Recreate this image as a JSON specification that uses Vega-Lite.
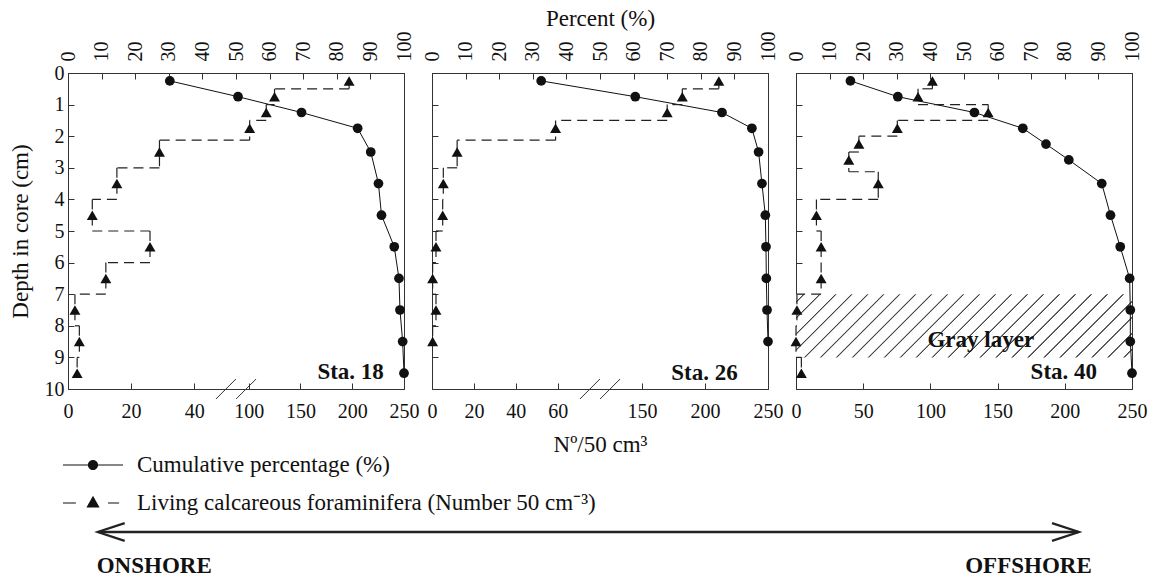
{
  "$schema": "https://vega.github.io/schema/vega-lite/v6.json",
  "background": "white",
  "padding": {"left": 8, "top": 6, "right": 5, "bottom": 0},
  "datasets": {
    "cum": [
      {"sta": "Sta. 18", "depth": 0.25, "pct": 30.3},
      {"sta": "Sta. 18", "depth": 0.75, "pct": 50.6},
      {"sta": "Sta. 18", "depth": 1.25, "pct": 69.5},
      {"sta": "Sta. 18", "depth": 1.75, "pct": 86.2},
      {"sta": "Sta. 18", "depth": 2.5, "pct": 90.1},
      {"sta": "Sta. 18", "depth": 3.5, "pct": 92.4},
      {"sta": "Sta. 18", "depth": 4.5, "pct": 93.3},
      {"sta": "Sta. 18", "depth": 5.5, "pct": 97.1},
      {"sta": "Sta. 18", "depth": 6.5, "pct": 98.5},
      {"sta": "Sta. 18", "depth": 7.5, "pct": 98.8},
      {"sta": "Sta. 18", "depth": 8.5, "pct": 99.6},
      {"sta": "Sta. 18", "depth": 9.5, "pct": 100},
      {"sta": "Sta. 26", "depth": 0.25, "pct": 32.5},
      {"sta": "Sta. 26", "depth": 0.75, "pct": 60.5},
      {"sta": "Sta. 26", "depth": 1.25, "pct": 86.3},
      {"sta": "Sta. 26", "depth": 1.75, "pct": 95.2},
      {"sta": "Sta. 26", "depth": 2.5, "pct": 97.2},
      {"sta": "Sta. 26", "depth": 3.5, "pct": 98.2},
      {"sta": "Sta. 26", "depth": 4.5, "pct": 99.2},
      {"sta": "Sta. 26", "depth": 5.5, "pct": 99.4},
      {"sta": "Sta. 26", "depth": 6.5, "pct": 99.5},
      {"sta": "Sta. 26", "depth": 7.5, "pct": 99.7},
      {"sta": "Sta. 26", "depth": 8.5, "pct": 100},
      {"sta": "Sta. 40", "depth": 0.25, "pct": 16.2},
      {"sta": "Sta. 40", "depth": 0.75, "pct": 30.3},
      {"sta": "Sta. 40", "depth": 1.25, "pct": 53.1},
      {"sta": "Sta. 40", "depth": 1.75, "pct": 67.5},
      {"sta": "Sta. 40", "depth": 2.25, "pct": 74.4},
      {"sta": "Sta. 40", "depth": 2.75, "pct": 81.2},
      {"sta": "Sta. 40", "depth": 3.5, "pct": 91.0},
      {"sta": "Sta. 40", "depth": 4.5, "pct": 93.6},
      {"sta": "Sta. 40", "depth": 5.5, "pct": 96.5},
      {"sta": "Sta. 40", "depth": 6.5, "pct": 99.3},
      {"sta": "Sta. 40", "depth": 7.5, "pct": 99.5},
      {"sta": "Sta. 40", "depth": 8.5, "pct": 99.5},
      {"sta": "Sta. 40", "depth": 9.5, "pct": 100}
    ],
    "foram": [
      {"sta": "Sta. 18", "depth": 0.25, "n": 197, "top": 0.25, "bottom": 0.5},
      {"sta": "Sta. 18", "depth": 0.75, "n": 125, "top": 0.5, "bottom": 1.0},
      {"sta": "Sta. 18", "depth": 1.25, "n": 117, "top": 1.0, "bottom": 1.5},
      {"sta": "Sta. 18", "depth": 1.75, "n": 101, "top": 1.5, "bottom": 2.125},
      {"sta": "Sta. 18", "depth": 2.5, "n": 29, "top": 2.125, "bottom": 3},
      {"sta": "Sta. 18", "depth": 3.5, "n": 15.5, "top": 3, "bottom": 4},
      {"sta": "Sta. 18", "depth": 4.5, "n": 7.7, "top": 4, "bottom": 5},
      {"sta": "Sta. 18", "depth": 5.5, "n": 26, "top": 5, "bottom": 6},
      {"sta": "Sta. 18", "depth": 6.5, "n": 12, "top": 6, "bottom": 7},
      {"sta": "Sta. 18", "depth": 7.5, "n": 2.2, "top": 7, "bottom": 8},
      {"sta": "Sta. 18", "depth": 8.5, "n": 3.6, "top": 8, "bottom": 9},
      {"sta": "Sta. 18", "depth": 9.5, "n": 2.9, "top": 9, "bottom": 9.5},
      {"sta": "Sta. 26", "depth": 0.25, "n": 211, "top": 0.25, "bottom": 0.5},
      {"sta": "Sta. 26", "depth": 0.75, "n": 182, "top": 0.5, "bottom": 1.0},
      {"sta": "Sta. 26", "depth": 1.25, "n": 170, "top": 1.0, "bottom": 1.5},
      {"sta": "Sta. 26", "depth": 1.75, "n": 59, "top": 1.5, "bottom": 2.125},
      {"sta": "Sta. 26", "depth": 2.5, "n": 12, "top": 2.125, "bottom": 3},
      {"sta": "Sta. 26", "depth": 3.5, "n": 5.4, "top": 3, "bottom": 4},
      {"sta": "Sta. 26", "depth": 4.5, "n": 5.1, "top": 4, "bottom": 5},
      {"sta": "Sta. 26", "depth": 5.5, "n": 1.9, "top": 5, "bottom": 6},
      {"sta": "Sta. 26", "depth": 6.5, "n": 0.3, "top": 6, "bottom": 7},
      {"sta": "Sta. 26", "depth": 7.5, "n": 1.9, "top": 7, "bottom": 8},
      {"sta": "Sta. 26", "depth": 8.5, "n": 0.3, "top": 8, "bottom": 8.5},
      {"sta": "Sta. 40", "depth": 0.25, "n": 101.5, "top": 0.25, "bottom": 0.5},
      {"sta": "Sta. 40", "depth": 0.75, "n": 90.8, "top": 0.5, "bottom": 1.0},
      {"sta": "Sta. 40", "depth": 1.25, "n": 143, "top": 1.0, "bottom": 1.5},
      {"sta": "Sta. 40", "depth": 1.75, "n": 75.4, "top": 1.5, "bottom": 2.0},
      {"sta": "Sta. 40", "depth": 2.25, "n": 46.8, "top": 2.0, "bottom": 2.5},
      {"sta": "Sta. 40", "depth": 2.75, "n": 39.3, "top": 2.5, "bottom": 3.125},
      {"sta": "Sta. 40", "depth": 3.5, "n": 61.2, "top": 3.125, "bottom": 4},
      {"sta": "Sta. 40", "depth": 4.5, "n": 15.2, "top": 4, "bottom": 5},
      {"sta": "Sta. 40", "depth": 5.5, "n": 18.7, "top": 5, "bottom": 6},
      {"sta": "Sta. 40", "depth": 6.5, "n": 18.7, "top": 6, "bottom": 7},
      {"sta": "Sta. 40", "depth": 7.5, "n": 0.7, "top": 7, "bottom": 8},
      {"sta": "Sta. 40", "depth": 8.5, "n": 0, "top": 8, "bottom": 9},
      {"sta": "Sta. 40", "depth": 9.5, "n": 4, "top": 9, "bottom": 9.5}
    ],
    "gray": [{"sta": "Sta. 40", "from": 7, "to": 9, "label": "Gray layer"}]
  },
  "spacing": 61,
  "vconcat": [
    {
      "hconcat": [
        {
          "width": 336, "height": 316,
          "resolve": {"scale": {"x": "independent"}},
          "layer": [
            {
              "layer": [
                {"data": {"name": "cum"}, "transform": [{"filter": "datum.sta === 'Sta. 18'"}],
                 "mark": {"type": "line", "color": "#111", "strokeWidth": 1},
                 "encoding": {
                   "x": {"field": "pct", "type": "quantitative", "scale": {"domain": [0, 100], "nice": false, "zero": false}, "axis": {"orient": "top", "values": [0, 10, 20, 30, 40, 50, 60, 70, 80, 90, 100], "labelAngle": -90, "title": null}},
                   "y": {"field": "depth", "type": "quantitative", "scale": {"domain": [0, 10], "reverse": true, "nice": false, "zero": false}, "axis": {"values": [0, 1, 2, 3, 4, 5, 6, 7, 8, 9, 10], "title": "Depth in core (cm)"}},
                   "order": {"field": "depth", "type": "quantitative"}}},
                {"data": {"name": "cum"}, "transform": [{"filter": "datum.sta === 'Sta. 18'"}],
                 "mark": {"type": "point", "shape": "circle", "filled": true, "color": "#111", "size": 95, "opacity": 1},
                 "encoding": {
                   "x": {"field": "pct", "type": "quantitative", "scale": {"domain": [0, 100], "nice": false, "zero": false}, "axis": {"orient": "top", "values": [0, 10, 20, 30, 40, 50, 60, 70, 80, 90, 100], "labelAngle": -90, "title": null}},
                   "y": {"field": "depth", "type": "quantitative", "scale": {"domain": [0, 10], "reverse": true, "nice": false, "zero": false}, "axis": {"values": [0, 1, 2, 3, 4, 5, 6, 7, 8, 9, 10], "title": "Depth in core (cm)"}}}},
                {"data": {"values": [{"label": "Sta. 18"}]},
                 "mark": {"type": "text", "align": "right", "baseline": "middle", "fontSize": 23, "fontWeight": "bold", "font": "Liberation Serif", "color": "#111"},
                 "encoding": {
                   "x": {"datum": 94, "type": "quantitative", "scale": {"domain": [0, 100], "nice": false, "zero": false}, "axis": {"orient": "top", "values": [0, 10, 20, 30, 40, 50, 60, 70, 80, 90, 100], "labelAngle": -90, "title": null}},
                   "y": {"datum": 9.45, "type": "quantitative", "scale": {"domain": [0, 10], "reverse": true, "nice": false, "zero": false}, "axis": {"values": [0, 1, 2, 3, 4, 5, 6, 7, 8, 9, 10], "title": "Depth in core (cm)"}},
                   "text": {"field": "label"}}},
                {"data": {"values": [{}]},
                 "mark": {"type": "point", "shape": "M-1,1L1,-1", "size": 400, "filled": false, "stroke": "#333", "strokeWidth": 1, "opacity": 1},
                 "encoding": {
                   "x": {"datum": 47, "type": "quantitative", "scale": {"domain": [0, 100], "nice": false, "zero": false}, "axis": {"orient": "top", "values": [0, 10, 20, 30, 40, 50, 60, 70, 80, 90, 100], "labelAngle": -90, "title": null}},
                   "y": {"datum": 10, "type": "quantitative", "scale": {"domain": [0, 10], "reverse": true, "nice": false, "zero": false}, "axis": {"values": [0, 1, 2, 3, 4, 5, 6, 7, 8, 9, 10], "title": "Depth in core (cm)"}}}},
                {"data": {"values": [{}]},
                 "mark": {"type": "point", "shape": "M-1,1L1,-1", "size": 400, "filled": false, "stroke": "#333", "strokeWidth": 1, "opacity": 1},
                 "encoding": {
                   "x": {"datum": 53, "type": "quantitative", "scale": {"domain": [0, 100], "nice": false, "zero": false}, "axis": {"orient": "top", "values": [0, 10, 20, 30, 40, 50, 60, 70, 80, 90, 100], "labelAngle": -90, "title": null}},
                   "y": {"datum": 10, "type": "quantitative", "scale": {"domain": [0, 10], "reverse": true, "nice": false, "zero": false}, "axis": {"values": [0, 1, 2, 3, 4, 5, 6, 7, 8, 9, 10], "title": "Depth in core (cm)"}}}}
              ]
            },
            {
              "layer": [
                {"data": {"name": "foram"}, "transform": [{"filter": "datum.sta === 'Sta. 18'"}],
                 "mark": {"type": "rule", "color": "#222", "strokeWidth": 1.2, "strokeDash": [10, 6]},
                 "encoding": {
                   "x": {"field": "n", "type": "quantitative", "scale": {"domain": [0, 48, 88, 250], "range": [0, 151.4, 168.2, 336], "nice": false, "zero": false}, "axis": {"orient": "bottom", "values": [0, 20, 40, 100, 150, 200, 250], "title": null}},
                   "y": {"field": "top", "type": "quantitative", "scale": {"domain": [0, 10], "reverse": true, "nice": false, "zero": false}, "axis": {"values": [0, 1, 2, 3, 4, 5, 6, 7, 8, 9, 10], "title": "Depth in core (cm)"}},
                   "y2": {"field": "bottom"}}},
                {"data": {"name": "foram"}, "transform": [{"filter": "datum.sta === 'Sta. 18'"}, {"window": [{"op": "lead", "field": "n", "as": "nnext"}], "sort": [{"field": "depth", "order": "ascending"}]}, {"filter": "datum.nnext != null"}],
                 "mark": {"type": "rule", "color": "#222", "strokeWidth": 1.2, "strokeDash": [10, 6]},
                 "encoding": {
                   "x": {"field": "n", "type": "quantitative", "scale": {"domain": [0, 48, 88, 250], "range": [0, 151.4, 168.2, 336], "nice": false, "zero": false}, "axis": {"orient": "bottom", "values": [0, 20, 40, 100, 150, 200, 250], "title": null}},
                   "x2": {"field": "nnext"},
                   "y": {"field": "bottom", "type": "quantitative", "scale": {"domain": [0, 10], "reverse": true, "nice": false, "zero": false}, "axis": {"values": [0, 1, 2, 3, 4, 5, 6, 7, 8, 9, 10], "title": "Depth in core (cm)"}}}},
                {"data": {"name": "foram"}, "transform": [{"filter": "datum.sta === 'Sta. 18'"}],
                 "mark": {"type": "point", "shape": "triangle-up", "filled": true, "color": "#111", "size": 120, "opacity": 1},
                 "encoding": {
                   "x": {"field": "n", "type": "quantitative", "scale": {"domain": [0, 48, 88, 250], "range": [0, 151.4, 168.2, 336], "nice": false, "zero": false}, "axis": {"orient": "bottom", "values": [0, 20, 40, 100, 150, 200, 250], "title": null}},
                   "y": {"field": "depth", "type": "quantitative", "scale": {"domain": [0, 10], "reverse": true, "nice": false, "zero": false}, "axis": {"values": [0, 1, 2, 3, 4, 5, 6, 7, 8, 9, 10], "title": "Depth in core (cm)"}}}}
              ]
            }
          ]
        },
        {
          "width": 336, "height": 316,
          "resolve": {"scale": {"x": "independent"}},
          "layer": [
            {
              "layer": [
                {"data": {"name": "cum"}, "transform": [{"filter": "datum.sta === 'Sta. 26'"}],
                 "mark": {"type": "line", "color": "#111", "strokeWidth": 1},
                 "encoding": {
                   "x": {"field": "pct", "type": "quantitative", "scale": {"domain": [0, 100], "nice": false, "zero": false}, "axis": {"orient": "top", "values": [0, 10, 20, 30, 40, 50, 60, 70, 80, 90, 100], "labelAngle": -90, "title": "Percent (%)", "titlePadding": 1}},
                   "y": {"field": "depth", "type": "quantitative", "scale": {"domain": [0, 10], "reverse": true, "nice": false, "zero": false}, "axis": {"values": [0, 1, 2, 3, 4, 5, 6, 7, 8, 9, 10], "labels": false, "title": null}},
                   "order": {"field": "depth", "type": "quantitative"}}},
                {"data": {"name": "cum"}, "transform": [{"filter": "datum.sta === 'Sta. 26'"}],
                 "mark": {"type": "point", "shape": "circle", "filled": true, "color": "#111", "size": 95, "opacity": 1},
                 "encoding": {
                   "x": {"field": "pct", "type": "quantitative", "scale": {"domain": [0, 100], "nice": false, "zero": false}, "axis": {"orient": "top", "values": [0, 10, 20, 30, 40, 50, 60, 70, 80, 90, 100], "labelAngle": -90, "title": "Percent (%)", "titlePadding": 1}},
                   "y": {"field": "depth", "type": "quantitative", "scale": {"domain": [0, 10], "reverse": true, "nice": false, "zero": false}, "axis": {"values": [0, 1, 2, 3, 4, 5, 6, 7, 8, 9, 10], "labels": false, "title": null}}}},
                {"data": {"values": [{"label": "Sta. 26"}]},
                 "mark": {"type": "text", "align": "right", "baseline": "middle", "fontSize": 23, "fontWeight": "bold", "font": "Liberation Serif", "color": "#111"},
                 "encoding": {
                   "x": {"datum": 91, "type": "quantitative", "scale": {"domain": [0, 100], "nice": false, "zero": false}, "axis": {"orient": "top", "values": [0, 10, 20, 30, 40, 50, 60, 70, 80, 90, 100], "labelAngle": -90, "title": "Percent (%)", "titlePadding": 1}},
                   "y": {"datum": 9.5, "type": "quantitative", "scale": {"domain": [0, 10], "reverse": true, "nice": false, "zero": false}, "axis": {"values": [0, 1, 2, 3, 4, 5, 6, 7, 8, 9, 10], "labels": false, "title": null}},
                   "text": {"field": "label"}}},
                {"data": {"values": [{}]},
                 "mark": {"type": "point", "shape": "M-1,1L1,-1", "size": 400, "filled": false, "stroke": "#333", "strokeWidth": 1, "opacity": 1},
                 "encoding": {
                   "x": {"datum": 47, "type": "quantitative", "scale": {"domain": [0, 100], "nice": false, "zero": false}, "axis": {"orient": "top", "values": [0, 10, 20, 30, 40, 50, 60, 70, 80, 90, 100], "labelAngle": -90, "title": "Percent (%)", "titlePadding": 1}},
                   "y": {"datum": 10, "type": "quantitative", "scale": {"domain": [0, 10], "reverse": true, "nice": false, "zero": false}, "axis": {"values": [0, 1, 2, 3, 4, 5, 6, 7, 8, 9, 10], "labels": false, "title": null}}}},
                {"data": {"values": [{}]},
                 "mark": {"type": "point", "shape": "M-1,1L1,-1", "size": 400, "filled": false, "stroke": "#333", "strokeWidth": 1, "opacity": 1},
                 "encoding": {
                   "x": {"datum": 53, "type": "quantitative", "scale": {"domain": [0, 100], "nice": false, "zero": false}, "axis": {"orient": "top", "values": [0, 10, 20, 30, 40, 50, 60, 70, 80, 90, 100], "labelAngle": -90, "title": "Percent (%)", "titlePadding": 1}},
                   "y": {"datum": 10, "type": "quantitative", "scale": {"domain": [0, 10], "reverse": true, "nice": false, "zero": false}, "axis": {"values": [0, 1, 2, 3, 4, 5, 6, 7, 8, 9, 10], "labels": false, "title": null}}}}
              ]
            },
            {
              "layer": [
                {"data": {"name": "foram"}, "transform": [{"filter": "datum.sta === 'Sta. 26'"}],
                 "mark": {"type": "rule", "color": "#222", "strokeWidth": 1.2, "strokeDash": [10, 6]},
                 "encoding": {
                   "x": {"field": "n", "type": "quantitative", "scale": {"domain": [0, 74, 125, 250], "range": [0, 155, 178.5, 336], "nice": false, "zero": false}, "axis": {"orient": "bottom", "values": [0, 20, 40, 60, 150, 200, 250], "title": "Nº/50 cm³", "titlePadding": 12}},
                   "y": {"field": "top", "type": "quantitative", "scale": {"domain": [0, 10], "reverse": true, "nice": false, "zero": false}, "axis": {"values": [0, 1, 2, 3, 4, 5, 6, 7, 8, 9, 10], "labels": false, "title": null}},
                   "y2": {"field": "bottom"}}},
                {"data": {"name": "foram"}, "transform": [{"filter": "datum.sta === 'Sta. 26'"}, {"window": [{"op": "lead", "field": "n", "as": "nnext"}], "sort": [{"field": "depth", "order": "ascending"}]}, {"filter": "datum.nnext != null"}],
                 "mark": {"type": "rule", "color": "#222", "strokeWidth": 1.2, "strokeDash": [10, 6]},
                 "encoding": {
                   "x": {"field": "n", "type": "quantitative", "scale": {"domain": [0, 74, 125, 250], "range": [0, 155, 178.5, 336], "nice": false, "zero": false}, "axis": {"orient": "bottom", "values": [0, 20, 40, 60, 150, 200, 250], "title": "Nº/50 cm³", "titlePadding": 12}},
                   "x2": {"field": "nnext"},
                   "y": {"field": "bottom", "type": "quantitative", "scale": {"domain": [0, 10], "reverse": true, "nice": false, "zero": false}, "axis": {"values": [0, 1, 2, 3, 4, 5, 6, 7, 8, 9, 10], "labels": false, "title": null}}}},
                {"data": {"name": "foram"}, "transform": [{"filter": "datum.sta === 'Sta. 26'"}],
                 "mark": {"type": "point", "shape": "triangle-up", "filled": true, "color": "#111", "size": 120, "opacity": 1},
                 "encoding": {
                   "x": {"field": "n", "type": "quantitative", "scale": {"domain": [0, 74, 125, 250], "range": [0, 155, 178.5, 336], "nice": false, "zero": false}, "axis": {"orient": "bottom", "values": [0, 20, 40, 60, 150, 200, 250], "title": "Nº/50 cm³", "titlePadding": 12}},
                   "y": {"field": "depth", "type": "quantitative", "scale": {"domain": [0, 10], "reverse": true, "nice": false, "zero": false}, "axis": {"values": [0, 1, 2, 3, 4, 5, 6, 7, 8, 9, 10], "labels": false, "title": null}}}}
              ]
            }
          ]
        },
        {
          "width": 336, "height": 316,
          "resolve": {"scale": {"x": "independent"}},
          "layer": [
            {
              "layer": [
                {"data": {"name": "gray"},
                 "mark": {"type": "rect", "fill": {"gradient": "linear", "x1": 0, "y1": 0, "x2": 1.1475, "y2": 0.2158, "stops": [
                   {"offset": 0, "color": "#fff"},
                   {"offset": 0.017, "color": "#fff"}, {"offset": 0.019, "color": "#444"}, {"offset": 0.021, "color": "#444"}, {"offset": 0.023, "color": "#fff"},
                   {"offset": 0.057, "color": "#fff"}, {"offset": 0.059, "color": "#444"}, {"offset": 0.061, "color": "#444"}, {"offset": 0.063, "color": "#fff"},
                   {"offset": 0.097, "color": "#fff"}, {"offset": 0.099, "color": "#444"}, {"offset": 0.101, "color": "#444"}, {"offset": 0.103, "color": "#fff"},
                   {"offset": 0.137, "color": "#fff"}, {"offset": 0.139, "color": "#444"}, {"offset": 0.141, "color": "#444"}, {"offset": 0.143, "color": "#fff"},
                   {"offset": 0.177, "color": "#fff"}, {"offset": 0.179, "color": "#444"}, {"offset": 0.181, "color": "#444"}, {"offset": 0.183, "color": "#fff"},
                   {"offset": 0.217, "color": "#fff"}, {"offset": 0.219, "color": "#444"}, {"offset": 0.221, "color": "#444"}, {"offset": 0.223, "color": "#fff"},
                   {"offset": 0.257, "color": "#fff"}, {"offset": 0.259, "color": "#444"}, {"offset": 0.261, "color": "#444"}, {"offset": 0.263, "color": "#fff"},
                   {"offset": 0.297, "color": "#fff"}, {"offset": 0.299, "color": "#444"}, {"offset": 0.301, "color": "#444"}, {"offset": 0.303, "color": "#fff"},
                   {"offset": 0.337, "color": "#fff"}, {"offset": 0.339, "color": "#444"}, {"offset": 0.341, "color": "#444"}, {"offset": 0.343, "color": "#fff"},
                   {"offset": 0.377, "color": "#fff"}, {"offset": 0.379, "color": "#444"}, {"offset": 0.381, "color": "#444"}, {"offset": 0.383, "color": "#fff"},
                   {"offset": 0.417, "color": "#fff"}, {"offset": 0.419, "color": "#444"}, {"offset": 0.421, "color": "#444"}, {"offset": 0.423, "color": "#fff"},
                   {"offset": 0.457, "color": "#fff"}, {"offset": 0.459, "color": "#444"}, {"offset": 0.461, "color": "#444"}, {"offset": 0.463, "color": "#fff"},
                   {"offset": 0.497, "color": "#fff"}, {"offset": 0.499, "color": "#444"}, {"offset": 0.501, "color": "#444"}, {"offset": 0.503, "color": "#fff"},
                   {"offset": 0.537, "color": "#fff"}, {"offset": 0.539, "color": "#444"}, {"offset": 0.541, "color": "#444"}, {"offset": 0.543, "color": "#fff"},
                   {"offset": 0.577, "color": "#fff"}, {"offset": 0.579, "color": "#444"}, {"offset": 0.581, "color": "#444"}, {"offset": 0.583, "color": "#fff"},
                   {"offset": 0.617, "color": "#fff"}, {"offset": 0.619, "color": "#444"}, {"offset": 0.621, "color": "#444"}, {"offset": 0.623, "color": "#fff"},
                   {"offset": 0.657, "color": "#fff"}, {"offset": 0.659, "color": "#444"}, {"offset": 0.661, "color": "#444"}, {"offset": 0.663, "color": "#fff"},
                   {"offset": 0.697, "color": "#fff"}, {"offset": 0.699, "color": "#444"}, {"offset": 0.701, "color": "#444"}, {"offset": 0.703, "color": "#fff"},
                   {"offset": 0.737, "color": "#fff"}, {"offset": 0.739, "color": "#444"}, {"offset": 0.741, "color": "#444"}, {"offset": 0.743, "color": "#fff"},
                   {"offset": 0.777, "color": "#fff"}, {"offset": 0.779, "color": "#444"}, {"offset": 0.781, "color": "#444"}, {"offset": 0.783, "color": "#fff"},
                   {"offset": 0.817, "color": "#fff"}, {"offset": 0.819, "color": "#444"}, {"offset": 0.821, "color": "#444"}, {"offset": 0.823, "color": "#fff"},
                   {"offset": 0.857, "color": "#fff"}, {"offset": 0.859, "color": "#444"}, {"offset": 0.861, "color": "#444"}, {"offset": 0.863, "color": "#fff"},
                   {"offset": 0.897, "color": "#fff"}, {"offset": 0.899, "color": "#444"}, {"offset": 0.901, "color": "#444"}, {"offset": 0.903, "color": "#fff"},
                   {"offset": 0.937, "color": "#fff"}, {"offset": 0.939, "color": "#444"}, {"offset": 0.941, "color": "#444"}, {"offset": 0.943, "color": "#fff"},
                   {"offset": 0.977, "color": "#fff"}, {"offset": 0.979, "color": "#444"}, {"offset": 0.981, "color": "#444"}, {"offset": 0.983, "color": "#fff"},
                   {"offset": 1, "color": "#fff"}]}, "opacity": 1},
                 "encoding": {
                   "x": {"datum": 0, "type": "quantitative", "scale": {"domain": [0, 100], "nice": false, "zero": false}, "axis": {"orient": "top", "values": [0, 10, 20, 30, 40, 50, 60, 70, 80, 90, 100], "labelAngle": -90, "title": null}},
                   "x2": {"datum": 100},
                   "y": {"field": "from", "type": "quantitative", "scale": {"domain": [0, 10], "reverse": true, "nice": false, "zero": false}, "axis": {"values": [0, 1, 2, 3, 4, 5, 6, 7, 8, 9, 10], "labels": false, "title": null}},
                   "y2": {"field": "to"}}},
                {"data": {"name": "cum"}, "transform": [{"filter": "datum.sta === 'Sta. 40'"}],
                 "mark": {"type": "line", "color": "#111", "strokeWidth": 1},
                 "encoding": {
                   "x": {"field": "pct", "type": "quantitative", "scale": {"domain": [0, 100], "nice": false, "zero": false}, "axis": {"orient": "top", "values": [0, 10, 20, 30, 40, 50, 60, 70, 80, 90, 100], "labelAngle": -90, "title": null}},
                   "y": {"field": "depth", "type": "quantitative", "scale": {"domain": [0, 10], "reverse": true, "nice": false, "zero": false}, "axis": {"values": [0, 1, 2, 3, 4, 5, 6, 7, 8, 9, 10], "labels": false, "title": null}},
                   "order": {"field": "depth", "type": "quantitative"}}},
                {"data": {"name": "cum"}, "transform": [{"filter": "datum.sta === 'Sta. 40'"}],
                 "mark": {"type": "point", "shape": "circle", "filled": true, "color": "#111", "size": 95, "opacity": 1},
                 "encoding": {
                   "x": {"field": "pct", "type": "quantitative", "scale": {"domain": [0, 100], "nice": false, "zero": false}, "axis": {"orient": "top", "values": [0, 10, 20, 30, 40, 50, 60, 70, 80, 90, 100], "labelAngle": -90, "title": null}},
                   "y": {"field": "depth", "type": "quantitative", "scale": {"domain": [0, 10], "reverse": true, "nice": false, "zero": false}, "axis": {"values": [0, 1, 2, 3, 4, 5, 6, 7, 8, 9, 10], "labels": false, "title": null}}}},
                {"data": {"name": "gray"},
                 "mark": {"type": "text", "align": "center", "baseline": "middle", "fontSize": 23, "fontWeight": "bold", "font": "Liberation Serif", "color": "#111"},
                 "encoding": {
                   "x": {"datum": 55, "type": "quantitative", "scale": {"domain": [0, 100], "nice": false, "zero": false}, "axis": {"orient": "top", "values": [0, 10, 20, 30, 40, 50, 60, 70, 80, 90, 100], "labelAngle": -90, "title": null}},
                   "y": {"datum": 8.45, "type": "quantitative", "scale": {"domain": [0, 10], "reverse": true, "nice": false, "zero": false}, "axis": {"values": [0, 1, 2, 3, 4, 5, 6, 7, 8, 9, 10], "labels": false, "title": null}},
                   "text": {"field": "label"}}},
                {"data": {"values": [{"label": "Sta. 40"}]},
                 "mark": {"type": "text", "align": "right", "baseline": "middle", "fontSize": 23, "fontWeight": "bold", "font": "Liberation Serif", "color": "#111"},
                 "encoding": {
                   "x": {"datum": 89.6, "type": "quantitative", "scale": {"domain": [0, 100], "nice": false, "zero": false}, "axis": {"orient": "top", "values": [0, 10, 20, 30, 40, 50, 60, 70, 80, 90, 100], "labelAngle": -90, "title": null}},
                   "y": {"datum": 9.45, "type": "quantitative", "scale": {"domain": [0, 10], "reverse": true, "nice": false, "zero": false}, "axis": {"values": [0, 1, 2, 3, 4, 5, 6, 7, 8, 9, 10], "labels": false, "title": null}},
                   "text": {"field": "label"}}}
              ]
            },
            {
              "layer": [
                {"data": {"name": "foram"}, "transform": [{"filter": "datum.sta === 'Sta. 40'"}],
                 "mark": {"type": "rule", "color": "#222", "strokeWidth": 1.2, "strokeDash": [10, 6]},
                 "encoding": {
                   "x": {"field": "n", "type": "quantitative", "scale": {"domain": [0, 250], "nice": false, "zero": false}, "axis": {"orient": "bottom", "values": [0, 50, 100, 150, 200, 250], "title": null}},
                   "y": {"field": "top", "type": "quantitative", "scale": {"domain": [0, 10], "reverse": true, "nice": false, "zero": false}, "axis": {"values": [0, 1, 2, 3, 4, 5, 6, 7, 8, 9, 10], "labels": false, "title": null}},
                   "y2": {"field": "bottom"}}},
                {"data": {"name": "foram"}, "transform": [{"filter": "datum.sta === 'Sta. 40'"}, {"window": [{"op": "lead", "field": "n", "as": "nnext"}], "sort": [{"field": "depth", "order": "ascending"}]}, {"filter": "datum.nnext != null"}],
                 "mark": {"type": "rule", "color": "#222", "strokeWidth": 1.2, "strokeDash": [10, 6]},
                 "encoding": {
                   "x": {"field": "n", "type": "quantitative", "scale": {"domain": [0, 250], "nice": false, "zero": false}, "axis": {"orient": "bottom", "values": [0, 50, 100, 150, 200, 250], "title": null}},
                   "x2": {"field": "nnext"},
                   "y": {"field": "bottom", "type": "quantitative", "scale": {"domain": [0, 10], "reverse": true, "nice": false, "zero": false}, "axis": {"values": [0, 1, 2, 3, 4, 5, 6, 7, 8, 9, 10], "labels": false, "title": null}}}},
                {"data": {"name": "foram"}, "transform": [{"filter": "datum.sta === 'Sta. 40'"}],
                 "mark": {"type": "point", "shape": "triangle-up", "filled": true, "color": "#111", "size": 120, "opacity": 1},
                 "encoding": {
                   "x": {"field": "n", "type": "quantitative", "scale": {"domain": [0, 250], "nice": false, "zero": false}, "axis": {"orient": "bottom", "values": [0, 50, 100, 150, 200, 250], "title": null}},
                   "y": {"field": "depth", "type": "quantitative", "scale": {"domain": [0, 10], "reverse": true, "nice": false, "zero": false}, "axis": {"values": [0, 1, 2, 3, 4, 5, 6, 7, 8, 9, 10], "labels": false, "title": null}}}}
              ]
            }
          ]
        }
      ],
      "spacing": 28,
      "bounds": "flush"
    },
    {
      "width": 1060, "height": 34,
      "view": {"stroke": null},
      "data": {"values": [{}]},
      "layer": [
        {"mark": {"type": "rule", "color": "#222", "strokeWidth": 2.5},
         "encoding": {"x": {"datum": 2.9, "type": "quantitative", "scale": {"domain": [0, 100], "nice": false, "zero": false}, "axis": null}, "x2": {"datum": 95.3}, "y": {"datum": 0, "type": "quantitative", "scale": {"domain": [0, 1], "reverse": true, "nice": false, "zero": false}, "axis": null}}},
        {"mark": {"type": "point", "shape": "M1,-0.33L0,0L1,0.33", "size": 2916, "filled": false, "stroke": "#222", "strokeWidth": 2.2, "opacity": 1},
         "encoding": {"x": {"datum": 2.8, "axis": null}, "y": {"datum": 0, "axis": null}}},
        {"mark": {"type": "point", "shape": "M-1,-0.33L0,0L-1,0.33", "size": 2916, "filled": false, "stroke": "#222", "strokeWidth": 2.2, "opacity": 1},
         "encoding": {"x": {"datum": 95.38, "axis": null}, "y": {"datum": 0, "axis": null}}},
        {"mark": {"type": "text", "align": "left", "baseline": "middle", "fontSize": 23, "fontWeight": "bold", "font": "Liberation Serif", "color": "#111"},
         "encoding": {"x": {"datum": 2.71, "axis": null}, "y": {"datum": 1, "axis": null}, "text": {"value": "ONSHORE"}}},
        {"mark": {"type": "text", "align": "right", "baseline": "middle", "fontSize": 23, "fontWeight": "bold", "font": "Liberation Serif", "color": "#111"},
         "encoding": {"x": {"datum": 96.58, "axis": null}, "y": {"datum": 1, "axis": null}, "text": {"value": "OFFSHORE"}}},
        {"transform": [{"filter": "false"}],
         "mark": {"type": "point", "filled": true, "color": "#111", "opacity": 1},
         "encoding": {"x": {"datum": 0, "axis": null}, "y": {"datum": 0, "axis": null},
           "shape": {"datum": "Cumulative percentage (%)",
             "scale": {"domain": ["Cumulative percentage (%)", "Living calcareous foraminifera (Number 50 cm⁻³)"],
                       "range": ["M-1,-0.018L-0.17,-0.018L-0.17,0.018L-1,0.018ZM0.17,-0.018L1,-0.018L1,0.018L0.17,0.018ZM0.17,0A0.17,0.17,0,1,1,-0.17,0A0.17,0.17,0,1,1,0.17,0Z",
                                 "M-1,-0.018L-0.57,-0.018L-0.57,0.018L-1,0.018ZM0.5,-0.018L0.87,-0.018L0.87,0.018L0.5,0.018ZM-0.22,0.15L0,-0.24L0.22,0.15Z"]},
             "legend": {"orient": "none", "legendX": -6, "legendY": 381, "title": null, "direction": "vertical", "labelFont": "Liberation Serif", "labelFontSize": 23, "labelColor": "#111", "labelLimit": 700, "labelOffset": 13, "symbolSize": 3600, "clipHeight": 22, "rowPadding": 15, "padding": 0, "symbolFillColor": "#111", "symbolOpacity": 1}}}}
      ]
    }
  ],
  "config": {
    "font": "Liberation Serif",
    "view": {"stroke": "#333", "strokeWidth": 1},
    "axis": {"labelFont": "Liberation Serif", "labelFontSize": 20, "labelColor": "#111", "titleFont": "Liberation Serif", "titleFontSize": 23, "titleFontWeight": "normal", "titleColor": "#111", "domainColor": "#333", "tickColor": "#333", "tickSize": -6, "labelPadding": 10, "grid": false, "labelFlush": false, "labelOverlap": false, "titlePadding": 8},
    "axisTop": {"labelPadding": 18},
    "axisBottom": {"labelPadding": 18},
    "axisLeft": {"labelPadding": 10, "titlePadding": 12}
  }
}
